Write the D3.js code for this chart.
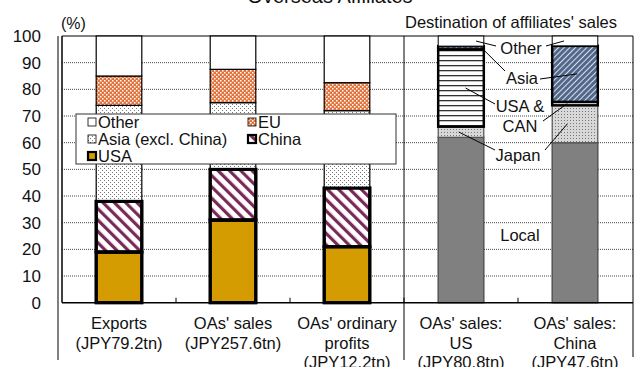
<!DOCTYPE html>
<meta charset="utf-8">
<head>
  <script src="https://cdn.jsdelivr.net/npm/d3@7"></script>
  <style>
    body { margin: 0; background: #fff; }
    svg { font-family: "Liberation Sans", Arial, sans-serif; }
    .grid line { stroke: #444; stroke-dasharray: 1,1; }
  </style>
</head>
<body>
<script>
// categorias y lineas de etiqueta
var cats = ["exports", "sales", "profits", "salesUS", "salesCN"];
var catLabels = [
  ["Exports", "(JPY79.2tn)"],
  ["OAs' sales", "(JPY257.6tn)"],
  ["OAs' ordinary", "profits", "(JPY12.2tn)"],
  ["OAs' sales:", "US", "(JPY80.8tn)"],
  ["OAs' sales:", "China", "(JPY47.6tn)"]
];

// grupo izquierdo (por region de destino), %
var leftCats = ["exports", "sales", "profits"];
var usa = [19, 31, 21];
var china = [19, 19, 22];
var asiaExChina = [36, 25, 29];
var eu = [11, 12.5, 10.5];
var otherLeft = [15, 12.5, 17.5];

// grupo derecho (destino de ventas de filiales), %
var rightCats = ["salesUS", "salesCN"];
var local = [62, 60];
var japan = [4, 14];
var usaCan = [29, 1.3];
var asia = [1.2, 21];
var otherRight = [3.8, 3.7];

var yTicks = [0, 10, 20, 30, 40, 50, 60, 70, 80, 90, 100];

var W = 634, H = 367;
var pLeft = 62, pRight = 632, pTop = 36, pBottom = 302.7;

var svg = d3.select("body").append("svg").attr("width", W).attr("height", H);

// patrones
var defs = svg.append("defs");
var p;
p = defs.append("pattern").attr("id", "pChina").attr("width", 8).attr("height", 8)
  .attr("patternUnits", "userSpaceOnUse").attr("patternTransform", "rotate(-45)");
p.append("rect").attr("width", 8).attr("height", 8).attr("fill", "#fff");
p.append("rect").attr("width", 3.2).attr("height", 8).attr("fill", "#7a2a58");

p = defs.append("pattern").attr("id", "pEU").attr("width", 4).attr("height", 4)
  .attr("patternUnits", "userSpaceOnUse");
p.append("rect").attr("width", 4).attr("height", 4).attr("fill", "#e2753f");
p.append("rect").attr("width", 1.5).attr("height", 1.5).attr("fill", "#fff");
p.append("rect").attr("x", 2).attr("y", 2).attr("width", 1.5).attr("height", 1.5).attr("fill", "#fff");

p = defs.append("pattern").attr("id", "pAsiaEx").attr("width", 4).attr("height", 4)
  .attr("patternUnits", "userSpaceOnUse");
p.append("rect").attr("width", 4).attr("height", 4).attr("fill", "#fff");
p.append("rect").attr("x", 0).attr("y", 0).attr("width", 1).attr("height", 1).attr("fill", "#777");
p.append("rect").attr("x", 2).attr("y", 2).attr("width", 1).attr("height", 1).attr("fill", "#777");

p = defs.append("pattern").attr("id", "pJapan").attr("width", 3).attr("height", 3)
  .attr("patternUnits", "userSpaceOnUse");
p.append("rect").attr("width", 3).attr("height", 3).attr("fill", "#d8d8d8");
p.append("rect").attr("width", 1).attr("height", 1).attr("fill", "#777");

p = defs.append("pattern").attr("id", "pUsaCan").attr("width", 5).attr("height", 5)
  .attr("patternUnits", "userSpaceOnUse");
p.append("rect").attr("width", 5).attr("height", 5).attr("fill", "#fff");
p.append("rect").attr("width", 5).attr("height", 1.3).attr("fill", "#333");

p = defs.append("pattern").attr("id", "pAsia").attr("width", 4).attr("height", 4)
  .attr("patternUnits", "userSpaceOnUse").attr("patternTransform", "rotate(45)");
p.append("rect").attr("width", 4).attr("height", 4).attr("fill", "#52688a");
p.append("rect").attr("width", 1).attr("height", 4).attr("fill", "#d8e0ea");

// escalas
var x = d3.scaleBand().domain(cats).range([pLeft, pRight]).paddingInner(0.6).paddingOuter(0.3);
var y = d3.scaleLinear().domain([0, 100]).range([pBottom, pTop]);

// grilla
svg.append("g").attr("class", "grid")
  .selectAll("line").data(yTicks.filter(function(d){ return d > 0 && d < 100; }))
  .enter().append("line")
  .attr("x1", pLeft).attr("x2", 633)
  .attr("y1", function(d){ return y(d); }).attr("y2", function(d){ return y(d); });

// marco
svg.append("line").attr("x1", pLeft).attr("x2", 633).attr("y1", pTop).attr("y2", pTop).attr("stroke", "#000");
svg.append("line").attr("x1", pLeft).attr("x2", pLeft).attr("y1", pTop).attr("y2", pBottom).attr("stroke", "#000").attr("stroke-width", 1.5);
svg.append("line").attr("x1", 58).attr("x2", 58).attr("y1", pTop).attr("y2", 360).attr("stroke", "#000");
svg.append("line").attr("x1", 633).attr("x2", 633).attr("y1", pTop).attr("y2", 357).attr("stroke", "#000");
var sepX = (x("profits") + x.bandwidth() + x("salesUS")) / 2;
svg.append("line").attr("x1", sepX).attr("x2", sepX).attr("y1", pTop).attr("y2", 360).attr("stroke", "#000");

// series
var leftSeries = [
  {name: "USA", vals: usa, fill: "#d49c00", sw: 3},
  {name: "China", vals: china, fill: "url(#pChina)", sw: 3},
  {name: "Asia (excl. China)", vals: asiaExChina, fill: "url(#pAsiaEx)", sw: 1.2},
  {name: "EU", vals: eu, fill: "url(#pEU)", sw: 1.2},
  {name: "Other", vals: otherLeft, fill: "#fff", sw: 1.2}
];
var rightSeries = [
  {name: "Local", vals: local, fill: "#808080", stroke: "#555", sw: 1.5},
  {name: "Japan", vals: japan, fill: "url(#pJapan)", stroke: "#555", sw: 1.2},
  {name: "USA & CAN", vals: usaCan, fill: "url(#pUsaCan)", stroke: "#000", sw: 2.5},
  {name: "Asia", vals: asia, fill: "url(#pAsia)", stroke: "#000", sw: 2.5},
  {name: "Other", vals: otherRight, fill: "#fff", stroke: "#000", sw: 1}
];

function drawGroup(groupCats, series) {
  var rows = groupCats.map(function(c, i){
    var r = {cat: c};
    series.forEach(function(s){ r[s.name] = s.vals[i]; });
    return r;
  });
  var stacked = d3.stack().keys(series.map(function(s){ return s.name; }))(rows);
  stacked.forEach(function(layer, k){
    var s = series[k];
    svg.append("g").selectAll("rect").data(layer).enter().append("rect")
      .attr("x", function(d){ return x(d.data.cat); })
      .attr("width", x.bandwidth())
      .attr("y", function(d){ return y(d[1]); })
      .attr("height", function(d){ return y(d[0]) - y(d[1]); })
      .attr("fill", s.fill)
      .attr("stroke", s.stroke || "#000")
      .attr("stroke-width", s.sw);
  });
  return stacked;
}
var leftStack = drawGroup(leftCats, leftSeries);
var rightStack = drawGroup(rightCats, rightSeries);

// redibuja bordes gruesos de USA/China por encima
[0, 1].forEach(function(k){
  svg.append("g").selectAll("rect").data(leftStack[k]).enter().append("rect")
    .attr("x", function(d){ return x(d.data.cat); })
    .attr("width", x.bandwidth())
    .attr("y", function(d){ return y(d[1]); })
    .attr("height", function(d){ return y(d[0]) - y(d[1]); })
    .attr("fill", "none").attr("stroke", "#000").attr("stroke-width", 3);
});

// eje x
svg.append("line").attr("x1", pLeft).attr("x2", 633).attr("y1", pBottom).attr("y2", pBottom)
  .attr("stroke", "#000").attr("stroke-width", 1.5);
var bounds = [];
for (var i = 0; i < cats.length - 1; i++) {
  bounds.push((x(cats[i]) + x.bandwidth() + x(cats[i + 1])) / 2);
}
svg.append("g").selectAll("line").data(bounds).enter().append("line")
  .attr("x1", function(d){ return d; }).attr("x2", function(d){ return d; })
  .attr("y1", pBottom).attr("y2", pBottom - 5).attr("stroke", "#000");

var cl = svg.append("g").attr("font-size", 16.5).attr("text-anchor", "middle").attr("fill", "#111");
cats.forEach(function(c, i){
  catLabels[i].forEach(function(t, j){
    cl.append("text").attr("x", x(c) + x.bandwidth() / 2).attr("y", 329 + j * 19.5).text(t);
  });
});

// eje y
var ya = svg.append("g").attr("font-size", 17).attr("text-anchor", "end").attr("fill", "#111");
ya.selectAll("text").data(yTicks).enter().append("text")
  .attr("x", 41).attr("y", function(d){ return y(d) + 6; }).text(function(d){ return d; });
svg.append("text").attr("x", 61).attr("y", 29).attr("font-size", 16).attr("fill", "#111").text("(%)");

// titulo
svg.append("text").attr("x", 330).attr("y", 3).attr("font-size", 20).attr("text-anchor", "middle")
  .attr("fill", "#111").text("Overseas Affiliates");
svg.append("text").attr("x", 511).attr("y", 28).attr("font-size", 16.5).attr("text-anchor", "middle")
  .attr("fill", "#111").text("Destination of affiliates' sales");

// leyenda
var lg = svg.append("g");
lg.append("rect").attr("x", 76).attr("y", 114).attr("width", 320).attr("height", 50)
  .attr("fill", "#fff").attr("stroke", "#333");
var legendItems = [
  {s: 4, col: 0, row: 0}, {s: 3, col: 1, row: 0},
  {s: 2, col: 0, row: 1}, {s: 1, col: 1, row: 1},
  {s: 0, col: 0, row: 2}
];
legendItems.forEach(function(it){
  var s = leftSeries[it.s];
  var tx = it.col === 0 ? 98 : 258;
  var cy = 122 + it.row * 17;
  lg.append("rect").attr("x", tx - 10).attr("y", cy - 4).attr("width", 8).attr("height", 8)
    .attr("fill", s.fill).attr("stroke", "#000").attr("stroke-width", s.sw > 2 ? 2.2 : 0.8);
  lg.append("text").attr("x", tx).attr("y", cy + 6).attr("font-size", 16.5).attr("fill", "#111").text(s.name);
});

// anotaciones del grupo derecho
function barPt(catIdx, layerIdx, fx) {
  var d = rightStack[layerIdx][catIdx];
  return [x(rightCats[catIdx]) + fx * x.bandwidth(), y((d[0] + d[1]) / 2)];
}
var annLabels = [
  {t: "Other", x: 521, y: 48},
  {t: "Asia", x: 522, y: 78},
  {t: "USA &", x: 520, y: 106},
  {t: "CAN", x: 520, y: 126},
  {t: "Japan", x: 518, y: 155},
  {t: "Local", x: 520, y: 235}
];
var an = svg.append("g").attr("font-size", 16.5).attr("text-anchor", "middle").attr("fill", "#111");
annLabels.forEach(function(a){
  an.append("text").attr("x", a.x).attr("y", a.y + 6).text(a.t);
});
var leaders = [
  [barPt(0, 4, 0.83), [496, 46]],
  [[546, 46], barPt(1, 4, 0.26)],
  [barPt(0, 3, 0.95), [505, 71]],
  [[540, 79], barPt(1, 3, 0.55)],
  [barPt(0, 2, 0.6), [495, 104]],
  [[543, 121], barPt(1, 2, 0.33)],
  [barPt(0, 1, 0.45), [495, 150]],
  [[545, 150], barPt(1, 1, 0.33)]
];
svg.append("g").selectAll("line").data(leaders).enter().append("line")
  .attr("x1", function(d){ return d[0][0]; }).attr("y1", function(d){ return d[0][1]; })
  .attr("x2", function(d){ return d[1][0]; }).attr("y2", function(d){ return d[1][1]; })
  .attr("stroke", "#000").attr("stroke-width", 1);
</script>
</body>
